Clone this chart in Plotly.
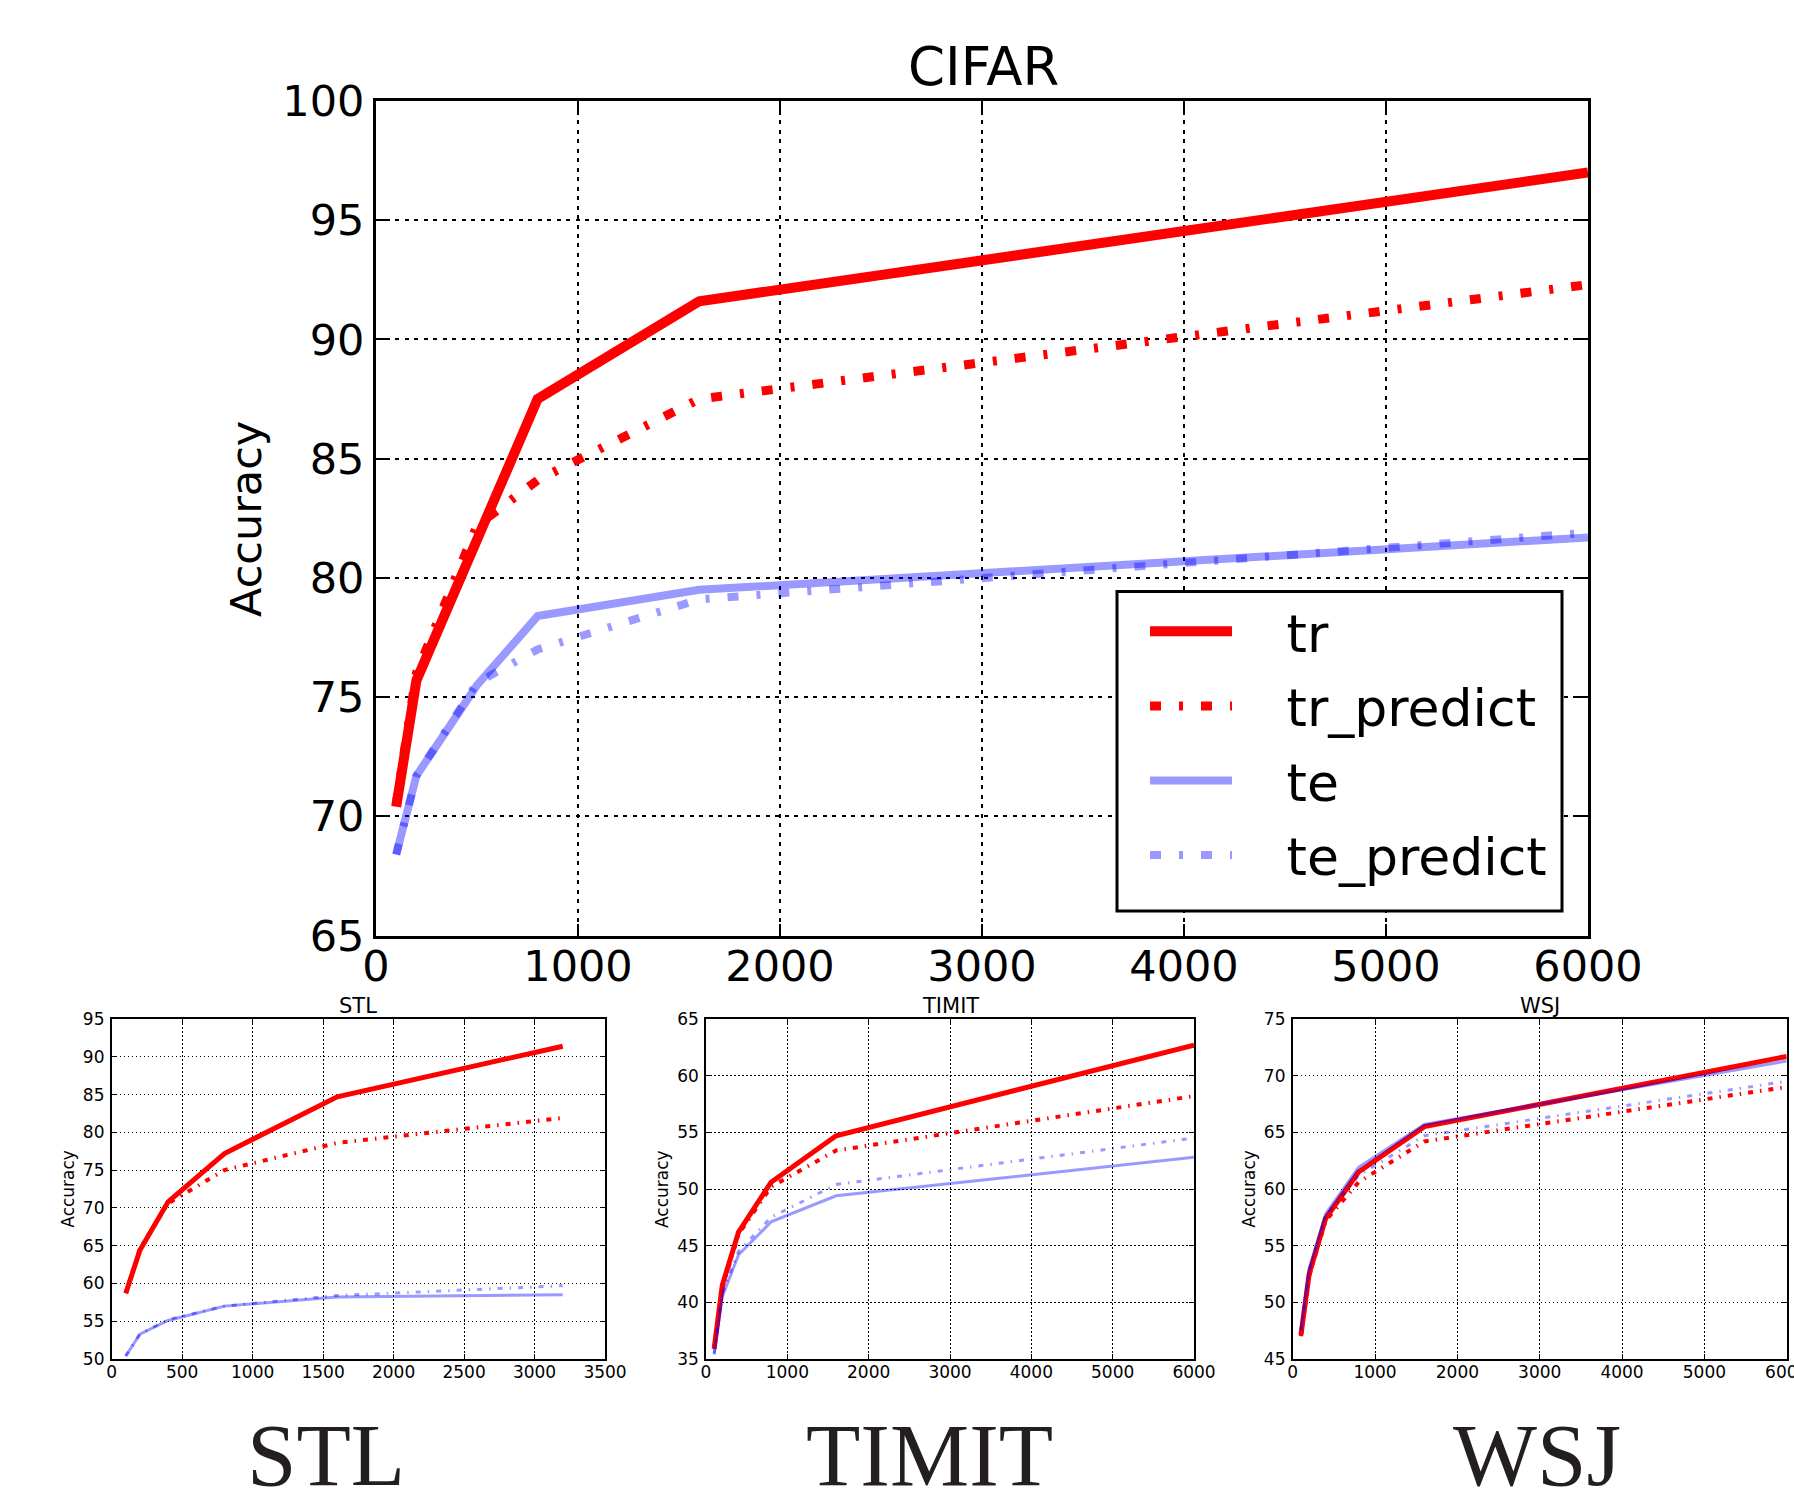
import plotly.graph_objects as go

# ---------------- data ----------------
cifar_x = [100, 200, 500, 800, 1600, 6000]
cifar_tr = [70.4, 75.7, 81.6, 87.5, 91.6, 97.0]
cifar_tr_predict = [70.5, 76.0, 82.2, 84.1, 87.5, 92.3]
cifar_te = [68.4, 71.7, 75.5, 78.4, 79.5, 81.7]
cifar_te_predict = [68.4, 71.7, 75.6, 77.0, 79.1, 81.9]

stl_x = [100, 200, 400, 800, 1600, 3200]
stl_tr = [58.7, 64.4, 70.8, 77.2, 84.7, 91.4]
stl_tr_predict = [58.7, 64.6, 70.6, 75.0, 78.6, 81.9]
stl_te = [50.4, 53.3, 55.1, 57.0, 58.2, 58.5]
stl_te_predict = [50.4, 53.3, 55.2, 57.0, 58.4, 59.7]

timit_x = [100, 200, 400, 800, 1600, 6000]
timit_tr = [35.9, 41.5, 46.2, 50.6, 54.7, 62.7]
timit_tr_predict = [35.9, 41.3, 46.0, 50.2, 53.4, 58.2]
timit_te = [35.4, 40.5, 44.2, 47.1, 49.4, 52.8]
timit_te_predict = [35.5, 40.8, 44.5, 47.5, 50.4, 54.5]

wsj_x = [100, 200, 400, 800, 1600, 6000]
wsj_tr = [47.1, 52.5, 57.4, 61.5, 65.5, 71.7]
wsj_tr_predict = [47.0, 52.3, 57.2, 60.6, 64.2, 69.0]
wsj_te = [47.6, 53.0, 57.8, 61.9, 65.7, 71.3]
wsj_te_predict = [47.5, 52.8, 57.6, 61.2, 64.7, 69.5]

series_names = ["tr", "tr_predict", "te", "te_predict"]
panel_titles = ["CIFAR", "STL", "TIMIT", "WSJ"]
bottom_labels = ["STL", "TIMIT", "WSJ"]

# ---------------- layout helpers ----------------
W, H = 1794, 1503
def px(v):
    return v / W
def py(v):
    return 1 - v / H

RED = "#ff0000"
BLUE = "rgba(0,0,255,0.4)"
FONT = "DejaVu Sans"

fig = go.Figure()

def add_panel(xs, tr, trp, te, tep, xa, ya, big):
    if big:
        widths = [10, 9, 8, 8]
        dash = "11px,18px,4px,18px"
    else:
        widths = [5, 4, 3, 3]
        dash = "5px,7px,1.5px,7px"
    vals = [tr, trp, te, tep]
    colors = [RED, RED, BLUE, BLUE]
    dashes = ["solid", dash, "solid", dash]
    for i in range(4):
        fig.add_trace(go.Scatter(
            x=xs, y=vals[i], mode="lines",
            name="\u00a0\u00a0\u00a0" + series_names[i],
            legendgroup=series_names[i],
            showlegend=big,
            line=dict(color=colors[i], width=widths[i], dash=dashes[i]),
            xaxis=xa, yaxis=ya, hoverinfo="skip"))

add_panel(cifar_x, cifar_tr, cifar_tr_predict, cifar_te, cifar_te_predict, "x", "y", True)
add_panel(stl_x, stl_tr, stl_tr_predict, stl_te, stl_te_predict, "x2", "y2", False)
add_panel(timit_x, timit_tr, timit_tr_predict, timit_te, timit_te_predict, "x3", "y3", False)
add_panel(wsj_x, wsj_tr, wsj_tr_predict, wsj_te, wsj_te_predict, "x4", "y4", False)

def axis(domain, rng, dtick, anchor, big, is_x):
    if big:
        standoff = -9 if is_x else 0
    else:
        standoff = -3 if is_x else 2
    return dict(
        domain=domain, range=rng, dtick=dtick, tick0=rng[0], anchor=anchor,
        automargin=False,
        showline=True, linecolor="black", linewidth=3 if big else 1.6,
        mirror="allticks", ticks="inside", ticklen=12 if big else 5,
        tickwidth=2 if big else 1.2, tickcolor="black",
        showgrid=True, gridcolor="black", gridwidth=1.5 if big else 1,
        griddash="4px,5.5px" if big else "1.5px,2.5px",
        zeroline=False,
        tickfont=dict(family=FONT, size=43 if big else 17, color="black"),
        ticklabelstandoff=standoff,
        ticklabeloverflow="allow",
    )

main_x = [376, 1588]
main_y = [101, 935.6]
small_y = [1019, 1359]
small_x = [[111.7, 605], [706, 1194], [1292.7, 1786.7]]
legend_box = [1117, 591.5, 1562, 911]

layout = dict(
    template="none",
    width=W, height=H, margin=dict(l=0, r=0, t=0, b=0, pad=0),
    paper_bgcolor="white", plot_bgcolor="white",
    xaxis=axis([px(main_x[0]), px(main_x[1])], [0, 6000], 1000, "y", True, True),
    yaxis=axis([py(main_y[1]), py(main_y[0])], [65, 100], 5, "x", True, False),
    xaxis2=axis([px(small_x[0][0]), px(small_x[0][1])], [0, 3500], 500, "y2", False, True),
    yaxis2=axis([py(small_y[1]), py(small_y[0])], [50, 95], 5, "x2", False, False),
    xaxis3=axis([px(small_x[1][0]), px(small_x[1][1])], [0, 6000], 1000, "y3", False, True),
    yaxis3=axis([py(small_y[1]), py(small_y[0])], [35, 65], 5, "x3", False, False),
    xaxis4=axis([px(small_x[2][0]), px(small_x[2][1])], [0, 6000], 1000, "y4", False, True),
    yaxis4=axis([py(small_y[1]), py(small_y[0])], [45, 75], 5, "x4", False, False),
    showlegend=True,
    legend=dict(
        x=px(1145), y=py(591), xanchor="left", yanchor="top",
        bgcolor="rgba(0,0,0,0)", borderwidth=0,
        font=dict(family=FONT, size=52, color="black"),
        itemwidth=82, tracegroupgap=4,
    ),
    shapes=[dict(type="rect", xref="paper", yref="paper",
                 x0=px(legend_box[0]), x1=px(legend_box[2]),
                 y0=py(legend_box[3]), y1=py(legend_box[1]),
                 line=dict(color="black", width=3), fillcolor="white", layer="above")],
)
fig.update_layout(**layout)

ann = []
ann.append(dict(text=panel_titles[0], x=px(983), y=py(67), xref="paper", yref="paper",
                xanchor="center", yanchor="middle", showarrow=False,
                font=dict(family=FONT, size=53, color="black")))
ann.append(dict(text="Accuracy", x=px(246), y=py(519), xref="paper", yref="paper",
                xanchor="center", yanchor="middle", showarrow=False, textangle=-90,
                font=dict(family=FONT, size=43, color="black")))
for i in range(3):
    cx = (small_x[i][0] + small_x[i][1]) / 2
    ann.append(dict(text=panel_titles[i + 1], x=px(cx), y=py(1006), xref="paper", yref="paper",
                    xanchor="center", yanchor="middle", showarrow=False,
                    font=dict(family=FONT, size=21, color="black")))
    ann.append(dict(text="Accuracy", x=px(small_x[i][0] - 44), y=py(1189), xref="paper", yref="paper",
                    xanchor="center", yanchor="middle", showarrow=False, textangle=-90,
                    font=dict(family=FONT, size=17, color="black")))
label_cx = [326, 929.6, 1536.6]
for i in range(3):
    ann.append(dict(text=bottom_labels[i], x=px(label_cx[i]), y=py(1455), xref="paper", yref="paper",
                    xanchor="center", yanchor="middle", showarrow=False,
                    font=dict(family="Liberation Serif", size=89, color="#231f20")))
fig.update_layout(annotations=ann)

fig.write_html("out.html",
               config={"displayModeBar": False},
               post_script="document.body.style.margin='0px';document.body.style.overflow='hidden';")
